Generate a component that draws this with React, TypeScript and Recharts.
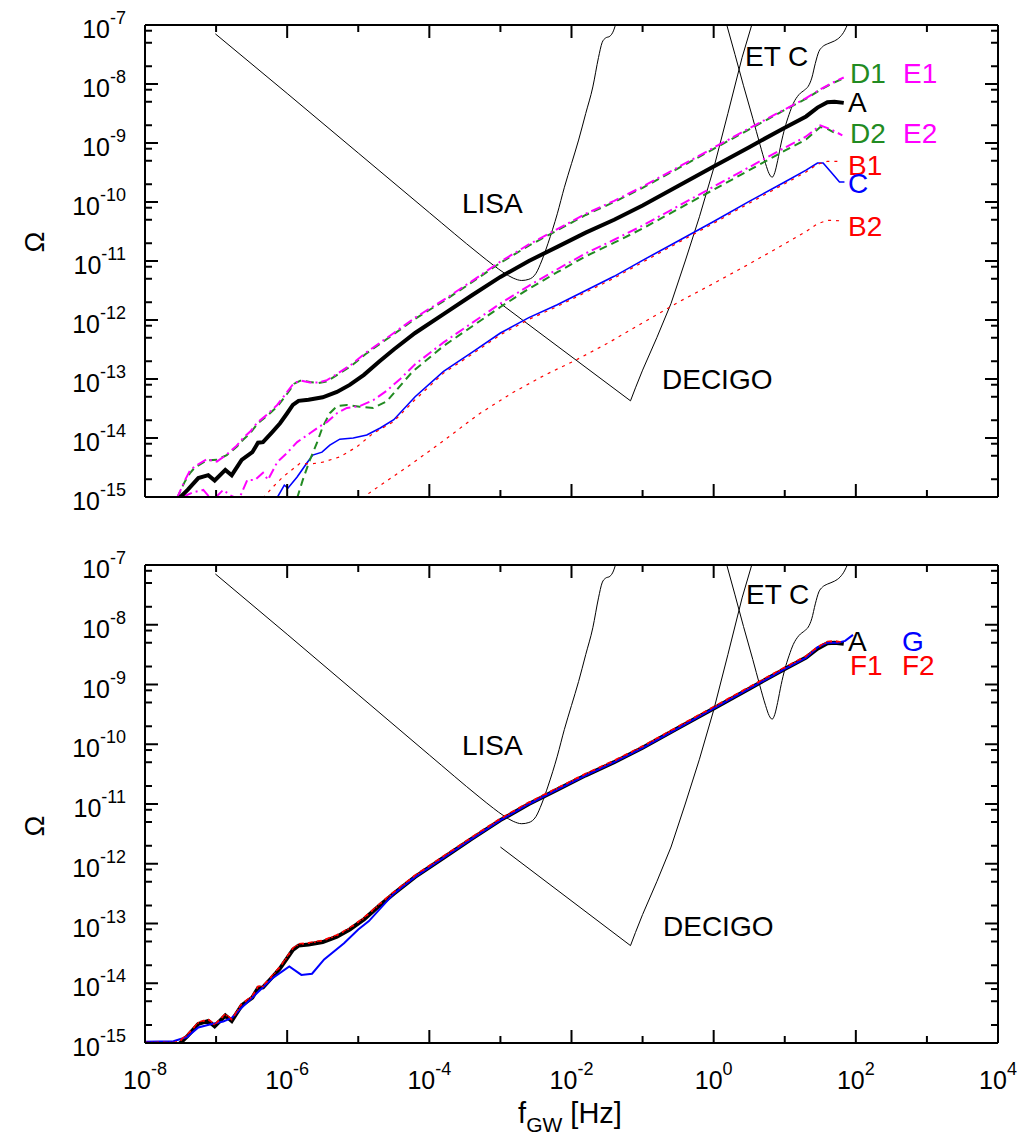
import { LineChart, Line, XAxis, YAxis } from 'recharts';

const FONT = '"Liberation Sans", Arial, Helvetica, sans-serif';

// axis ticks: frequency decades, Ω decades plus minor marks at 2, 5, 8
const xTicks = [1e-8, 1e-7, 1e-6, 1e-5, 1e-4, 1e-3, 1e-2, 1e-1, 1, 1e1, 1e2, 1e3, 1e4];
const yDecades = [1e-15, 1e-14, 1e-13, 1e-12, 1e-11, 1e-10, 1e-9, 1e-8, 1e-7];
const yTicks = yDecades.flatMap((d, i) => (i < yDecades.length - 1 ? [d, 2 * d, 5 * d, 8 * d] : [d]));

// all curves below are log10(f / Hz) and log10(Ω)

// detector sensitivities
const lisaF = [-7.01, -6.0, -5.0, -4.0, -3.3, -3.1, -2.95, -2.82, -2.7, -2.6, -2.5, -2.42, -2.33, -2.2, -2.1, -2.0, -1.9, -1.8, -1.7, -1.62, -1.57, -1.52, -1.46, -1.41, -1.37];
const lisaV = [-7.15, -8.16, -9.17, -10.18, -10.88, -11.07, -11.2, -11.29, -11.33, -11.31, -11.21, -11.0, -10.7, -10.2, -9.75, -9.35, -8.95, -8.5, -8.05, -7.55, -7.3, -7.22, -7.19, -7.1, -6.95];
const decigoF = [-3.0, -1.17, -1.1, -1.0, -0.8, -0.6, -0.4, -0.2, 0.0, 0.2, 0.4, 0.56];
const decigoV = [-11.72, -13.37, -13.15, -12.85, -12.3, -11.72, -11.0, -10.25, -9.43, -8.5, -7.55, -6.9];
const etF = [0.18, 0.3, 0.42, 0.55, 0.65, 0.73, 0.78, 0.823, 0.86, 0.9, 0.95, 1.0, 1.06, 1.12, 1.2, 1.28, 1.33, 1.38, 1.43, 1.48, 1.53, 1.6, 1.7, 1.78, 1.84, 1.89];
const etV = [-6.98, -7.5, -8.03, -8.58, -9.02, -9.35, -9.52, -9.58, -9.5, -9.3, -9.0, -8.75, -8.52, -8.33, -8.18, -8.1, -8.04, -7.9, -7.65, -7.45, -7.37, -7.32, -7.27, -7.2, -7.1, -6.97];

// model A
const aF = [-7.52, -7.4, -7.25, -7.11, -7.02, -6.87, -6.78, -6.64, -6.49, -6.41, -6.34, -6.21, -6.1, -6.0, -5.92, -5.84, -5.7, -5.5, -5.3, -5.12, -4.92, -4.7, -4.5, -4.2, -3.8, -3.4, -3.0, -2.6, -2.2, -1.8, -1.4, -1.0, -0.5, 0.0, 0.5, 1.0, 1.3, 1.46, 1.6, 1.7, 1.83];
const aV = [-15.02, -14.88, -14.68, -14.63, -14.72, -14.54, -14.63, -14.37, -14.24, -14.08, -14.07, -13.9, -13.75, -13.58, -13.44, -13.37, -13.35, -13.31, -13.22, -13.1, -12.93, -12.7, -12.5, -12.22, -11.9, -11.58, -11.27, -11.0, -10.76, -10.52, -10.3, -10.06, -9.73, -9.4, -9.07, -8.74, -8.55, -8.4, -8.31, -8.3, -8.32];

// models B1, B2, C
const b1F = [-6.34, -6.2, -6.06, -5.82, -5.66, -5.5, -5.26, -5.02, -4.79, -4.51, -4.2, -3.8, -3.4, -3.0, -2.6, -2.2, -1.8, -1.4, -1.0, -0.5, 0.0, 0.5, 1.0, 1.3, 1.46, 1.6, 1.81];
const b1V = [-15.02, -14.83, -14.66, -14.43, -14.44, -14.41, -14.32, -14.15, -13.92, -13.73, -13.35, -12.9, -12.58, -12.25, -11.99, -11.77, -11.53, -11.29, -11.02, -10.69, -10.36, -10.02, -9.69, -9.49, -9.36, -9.31, -9.31];
const b2F = [-4.95, -4.71, -4.24, -3.77, -3.31, -2.84, -2.37, -1.94, -1.5, -1.0, -0.5, 0.0, 0.5, 1.0, 1.3, 1.46, 1.6, 1.81];
const b2V = [-15.02, -14.82, -14.43, -14.02, -13.6, -13.24, -12.93, -12.68, -12.4, -12.05, -11.7, -11.38, -11.05, -10.71, -10.5, -10.37, -10.31, -10.32];
const cF = [-6.6, -6.15, -6.04, -5.99, -5.86, -5.72, -5.64, -5.51, -5.4, -5.26, -5.07, -4.88, -4.69, -4.5, -4.2, -3.8, -3.4, -3.0, -2.6, -2.2, -1.8, -1.4, -1.0, -0.5, 0.0, 0.5, 1.0, 1.3, 1.46, 1.54, 1.65, 1.77, 1.84];
const cV = [-15.03, -15.03, -14.8, -14.85, -14.66, -14.42, -14.29, -14.24, -14.12, -14.02, -14.0, -13.95, -13.83, -13.69, -13.3, -12.87, -12.55, -12.22, -11.96, -11.74, -11.5, -11.26, -10.99, -10.66, -10.33, -9.99, -9.66, -9.46, -9.34, -9.34, -9.49, -9.66, -9.66];

// models D1, E1 (upper pair) and D2, E2 (lower pair)
const d1F = [-7.55, -7.44, -7.37, -7.3, -7.13, -6.99, -6.85, -6.71, -6.62, -6.52, -6.42, -6.28, -6.14, -6.0, -5.9, -5.8, -5.68, -5.56, -5.44, -5.28, -5.09, -4.9, -4.7, -4.5, -4.2, -3.8, -3.4, -3.0, -2.6, -2.2, -1.8, -1.4, -1.0, -0.5, 0.0, 0.5, 1.0, 1.3, 1.5, 1.65, 1.83];
const d1V = [-15.02, -14.74, -14.6, -14.5, -14.38, -14.37, -14.29, -14.15, -14.03, -13.92, -13.76, -13.62, -13.47, -13.25, -13.08, -13.02, -13.05, -13.07, -13.04, -12.92, -12.77, -12.58, -12.41, -12.24, -11.98, -11.68, -11.36, -11.03, -10.74, -10.48, -10.22, -10.0, -9.76, -9.43, -9.1, -8.77, -8.44, -8.25, -8.1, -8.0, -7.9];
const e1V = [-15.02, -14.72, -14.56, -14.48, -14.36, -14.4, -14.28, -14.13, -14.0, -13.89, -13.74, -13.6, -13.44, -13.22, -13.06, -13.03, -13.06, -13.06, -13.02, -12.9, -12.75, -12.56, -12.39, -12.22, -11.96, -11.66, -11.34, -11.01, -10.72, -10.46, -10.2, -9.98, -9.74, -9.41, -9.08, -8.75, -8.43, -8.24, -8.09, -7.99, -7.89];
const d2F = [-5.86, -5.78, -5.68, -5.58, -5.5, -5.4, -5.3, -5.16, -4.98, -4.79, -4.6, -4.45, -4.24, -3.8, -3.4, -3.0, -2.6, -2.2, -1.8, -1.4, -1.0, -0.5, 0.0, 0.5, 1.0, 1.3, 1.5, 1.6, 1.69];
const d2V = [-15.02, -14.71, -14.37, -14.08, -13.81, -13.58, -13.46, -13.44, -13.47, -13.49, -13.38, -13.17, -12.88, -12.44, -12.11, -11.78, -11.47, -11.19, -10.92, -10.69, -10.45, -10.12, -9.79, -9.46, -9.13, -8.94, -8.73, -8.76, -8.82];
const e2F = [-7.47, -7.32, -7.18, -7.05, -6.9, -6.8, -6.68, -6.56, -6.45, -6.34, -6.27, -6.14, -6.0, -5.86, -5.68, -5.54, -5.44, -5.3, -5.16, -4.98, -4.79, -4.6, -4.41, -4.2, -3.8, -3.4, -3.0, -2.6, -2.2, -1.8, -1.4, -1.0, -0.5, 0.0, 0.5, 1.0, 1.3, 1.5, 1.65, 1.81];
const e2V = [-15.0, -14.92, -14.88, -15.06, -14.88, -14.97, -15.04, -14.71, -14.71, -14.59, -14.71, -14.41, -14.25, -14.07, -13.92, -13.8, -13.73, -13.58, -13.49, -13.46, -13.36, -13.2, -13.0, -12.75, -12.38, -12.05, -11.72, -11.42, -11.14, -10.87, -10.64, -10.4, -10.07, -9.74, -9.41, -9.08, -8.89, -8.7, -8.77, -8.87];

// models F1, F2, G (lower panel)
const fF = [-8.0, -7.58, -7.52, -7.4, -7.25, -7.11, -7.02, -6.87, -6.78, -6.64, -6.49, -6.41, -6.34, -6.21, -6.1, -6.0, -5.92, -5.84, -5.7, -5.5, -5.3, -5.12, -4.92, -4.7, -4.5, -4.2, -3.8, -3.4, -3.0, -2.6, -2.2, -1.8, -1.4, -1.0, -0.5, 0.0, 0.5, 1.0, 1.3, 1.46, 1.6, 1.7, 1.8];
const f1V = [-14.99, -14.99, -14.97, -14.85, -14.65, -14.6, -14.69, -14.51, -14.6, -14.34, -14.21, -14.05, -14.04, -13.87, -13.72, -13.55, -13.41, -13.34, -13.32, -13.28, -13.19, -13.07, -12.9, -12.67, -12.47, -12.19, -11.87, -11.55, -11.24, -10.97, -10.73, -10.49, -10.27, -10.03, -9.7, -9.37, -9.04, -8.71, -8.52, -8.37, -8.28, -8.27, -8.29];
const f2V = [-14.99, -14.99, -14.98, -14.86, -14.66, -14.61, -14.7, -14.52, -14.61, -14.35, -14.22, -14.06, -14.05, -13.88, -13.73, -13.56, -13.42, -13.35, -13.33, -13.29, -13.2, -13.08, -12.91, -12.68, -12.48, -12.2, -11.88, -11.56, -11.25, -10.98, -10.74, -10.5, -10.28, -10.04, -9.71, -9.38, -9.05, -8.72, -8.53, -8.38, -8.29, -8.28, -8.3];
const gF = [-8.0, -7.6, -7.41, -7.25, -7.09, -6.9, -6.78, -6.66, -6.42, -6.2, -5.97, -5.8, -5.65, -5.48, -5.2, -5.0, -4.85, -4.5, -4.2, -3.8, -3.4, -3.0, -2.6, -2.2, -1.8, -1.4, -1.0, -0.5, 0.0, 0.5, 1.0, 1.3, 1.46, 1.6, 1.75, 1.85, 1.96];
const gV = [-14.98, -14.97, -14.9, -14.74, -14.69, -14.64, -14.58, -14.43, -14.16, -13.91, -13.72, -13.86, -13.84, -13.6, -13.33, -13.1, -12.96, -12.5, -12.22, -11.9, -11.58, -11.27, -11.0, -10.76, -10.52, -10.3, -10.06, -9.73, -9.4, -9.07, -8.74, -8.55, -8.38, -8.3, -8.3, -8.27, -8.17];

type Series = {
  id: string;
  f: number[];
  v: number[];
  color: string;
  width: number;
  dash?: string;
  curve?: 'linear' | 'monotone';
};

const toPoints = (f: number[], v: number[]) => f.map((x, i) => ({ f: 10 ** x, v: 10 ** v[i] }));

const detectors: Series[] = [
  { id: 'lisa', f: lisaF, v: lisaV, color: '#000', width: 1, curve: 'monotone' },
  { id: 'decigo', f: decigoF, v: decigoV, color: '#000', width: 1 },
  { id: 'et', f: etF, v: etV, color: '#000', width: 1, curve: 'monotone' },
];

const GREEN = '#228b22';
const MAGENTA = '#ff00ff';
const RED = '#ff0000';
const BLUE = '#0000ff';

const topSeries: Series[] = [
  ...detectors,
  { id: 'B2', f: b2F, v: b2V, color: RED, width: 1.2, dash: '3 5' },
  { id: 'C', f: cF, v: cV, color: BLUE, width: 1.6 },
  { id: 'B1', f: b1F, v: b1V, color: RED, width: 1.2, dash: '3 5' },
  { id: 'D2', f: d2F, v: d2V, color: GREEN, width: 2, dash: '8 5' },
  { id: 'E2', f: e2F, v: e2V, color: MAGENTA, width: 2, dash: '10 4 2 4' },
  { id: 'D1', f: d1F, v: d1V, color: GREEN, width: 2, dash: '8 5' },
  { id: 'E1', f: d1F, v: e1V, color: MAGENTA, width: 2, dash: '10 4 2 4' },
  { id: 'A', f: aF, v: aV, color: '#000', width: 4 },
];

const bottomSeries: Series[] = [
  ...detectors,
  { id: 'A', f: aF, v: aV, color: '#000', width: 4 },
  { id: 'G', f: gF, v: gV, color: BLUE, width: 2 },
  { id: 'F1', f: fF, v: f1V, color: RED, width: 1.5, dash: '5 4' },
  { id: 'F2', f: fF, v: f2V, color: RED, width: 1.5, dash: '2 4' },
];

const isDecade = (value: number) => {
  const e = Math.log10(value);
  return Math.abs(e - Math.round(e)) < 1e-6;
};

function Pow10({ x, y, anchor, value }: { x: number; y: number; anchor: 'end' | 'middle'; value: number }) {
  return (
    <text x={x} y={y} textAnchor={anchor} fontSize={25} fontFamily={FONT} fill="#000">
      10
      <tspan dy={-14} fontSize={18}>
        {Math.round(Math.log10(value))}
      </tspan>
    </text>
  );
}

// tick renderers: ticks point into the plot, labels sit outside
function LeftTick(props: any) {
  const { x, y, payload } = props;
  const major = isDecade(payload.value);
  return (
    <g>
      <line x1={x} y1={y} x2={x + (major ? 13 : 7)} y2={y} stroke="#000" strokeWidth={2} />
      {major && <Pow10 x={x - 19} y={y + 13} anchor="end" value={payload.value} />}
    </g>
  );
}

function RightTick(props: any) {
  const { x, y, payload } = props;
  const major = isDecade(payload.value);
  return <line x1={x} y1={y} x2={x - (major ? 13 : 7)} y2={y} stroke="#000" strokeWidth={2} />;
}

function BottomTick(props: any) {
  const { x, y, payload, labels } = props;
  const e = Math.round(Math.log10(payload.value));
  const major = e % 2 === 0;
  return (
    <g>
      <line x1={x} y1={y} x2={x} y2={y - (major ? 13 : 7)} stroke="#000" strokeWidth={2} />
      {labels && major && <Pow10 x={x} y={y + 46} anchor="middle" value={payload.value} />}
    </g>
  );
}

function TopTick(props: any) {
  const { x, y, payload } = props;
  const e = Math.round(Math.log10(payload.value));
  const major = e % 2 === 0;
  return <line x1={x} y1={y} x2={x} y2={y + (major ? 13 : 7)} stroke="#000" strokeWidth={2} />;
}

const FRAME = { stroke: '#000', strokeWidth: 2 };

function Panel({
  height,
  top,
  bottom,
  series,
  xLabels,
}: {
  height: number;
  top: number;
  bottom: number;
  series: Series[];
  xLabels: boolean;
}) {
  const xCommon = {
    type: 'number' as const,
    dataKey: 'f',
    scale: 'log' as const,
    domain: [1e-8, 1e4],
    allowDataOverflow: true,
    ticks: xTicks,
    interval: 0,
    height: 1,
    tickSize: 0,
    tickMargin: 0,
    tickLine: false,
    axisLine: FRAME,
  };
  const yCommon = {
    type: 'number' as const,
    dataKey: 'v',
    scale: 'log' as const,
    domain: [1e-15, 1e-7],
    allowDataOverflow: true,
    ticks: yTicks,
    interval: 0,
    width: 1,
    tickSize: 0,
    tickMargin: 0,
    tickLine: false,
    axisLine: FRAME,
  };
  return (
    <LineChart width={1019} height={height} margin={{ top: top - 1, right: 20, bottom: bottom - 1, left: 144 }}>
      <XAxis xAxisId="b" orientation="bottom" {...xCommon} tick={(p: any) => <BottomTick {...p} labels={xLabels} />} />
      <XAxis xAxisId="t" orientation="top" {...xCommon} tick={(p: any) => <TopTick {...p} />} />
      <YAxis yAxisId="l" orientation="left" {...yCommon} tick={(p: any) => <LeftTick {...p} />} />
      <YAxis yAxisId="r" orientation="right" {...yCommon} tick={(p: any) => <RightTick {...p} />} />
      {series.map((s) => (
        <Line
          key={s.id}
          xAxisId="b"
          yAxisId="l"
          data={toPoints(s.f, s.v)}
          dataKey="v"
          type={s.curve ?? 'linear'}
          stroke={s.color}
          strokeWidth={s.width}
          strokeDasharray={s.dash}
          dot={false}
          activeDot={false}
          isAnimationActive={false}
        />
      ))}
    </LineChart>
  );
}

type Note = { text: string; x: number; y: number; color: string };

const topNotes: Note[] = [
  { text: 'LISA', x: 462, y: 213, color: '#000' },
  { text: 'DECIGO', x: 662, y: 389, color: '#000' },
  { text: 'ET C', x: 745, y: 66, color: '#000' },
  { text: 'D1', x: 850, y: 83, color: GREEN },
  { text: 'E1', x: 903, y: 83, color: MAGENTA },
  { text: 'A', x: 848, y: 112, color: '#000' },
  { text: 'D2', x: 850, y: 143, color: GREEN },
  { text: 'E2', x: 903, y: 143, color: MAGENTA },
  { text: 'B1', x: 848, y: 175, color: RED },
  { text: 'C', x: 848, y: 193, color: BLUE },
  { text: 'B2', x: 848, y: 236, color: RED },
];

const bottomNotes: Note[] = [
  { text: 'LISA', x: 462, y: 755, color: '#000' },
  { text: 'DECIGO', x: 663, y: 936, color: '#000' },
  { text: 'ET C', x: 746, y: 604, color: '#000' },
  { text: 'A', x: 848, y: 651, color: '#000' },
  { text: 'G', x: 902, y: 651, color: BLUE },
  { text: 'F1', x: 850, y: 675, color: RED },
  { text: 'F2', x: 902, y: 675, color: RED },
];

export default function App() {
  return (
    <div style={{ position: 'absolute', left: 0, top: 0, width: 1019, height: 1142, background: '#fff' }}>
      <div style={{ position: 'absolute', left: 0, top: 0 }}>
        <Panel height={530} top={25} bottom={33} series={topSeries} xLabels={false} />
      </div>
      <div style={{ position: 'absolute', left: 0, top: 530 }}>
        <Panel height={612} top={35} bottom={99} series={bottomSeries} xLabels />
      </div>
      <svg
        width={1019}
        height={1142}
        style={{ position: 'absolute', left: 0, top: 0, pointerEvents: 'none' }}
        fontFamily={FONT}
      >
        {[...topNotes, ...bottomNotes].map((n, i) => (
          <text key={i} x={n.x} y={n.y} fontSize={28} fill={n.color}>
            {n.text}
          </text>
        ))}
        <text x={34} y={242} fontSize={28} textAnchor="middle" dominantBaseline="central" transform="rotate(-90 34 242)">
          Ω
        </text>
        <text x={34} y={826} fontSize={28} textAnchor="middle" dominantBaseline="central" transform="rotate(-90 34 826)">
          Ω
        </text>
        <text x={570} y={1123} fontSize={29} textAnchor="middle">
          f<tspan dy={9} fontSize={21}>GW</tspan>
          <tspan dy={-9}> [Hz]</tspan>
        </text>
      </svg>
    </div>
  );
}
